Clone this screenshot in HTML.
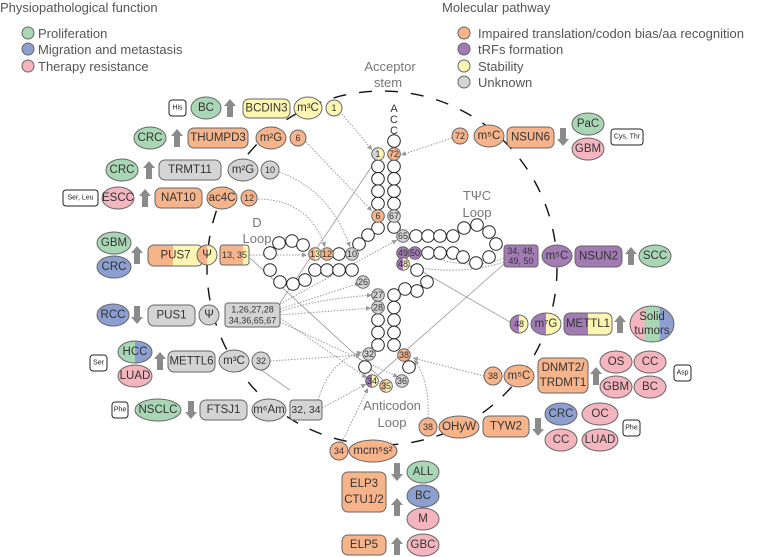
<!DOCTYPE html>
<html><head><meta charset="utf-8"><style>
html,body{margin:0;padding:0;background:#fff;}
svg{display:block;font-family:"Liberation Sans",Arial,sans-serif;}
</style></head><body>
<svg width="764" height="557" viewBox="0 0 764 557" xmlns="http://www.w3.org/2000/svg">
<defs>
<linearGradient id="oy" x1="0" x2="1" y1="0" y2="0"><stop offset="0.5" stop-color="#f7b48a"/><stop offset="0.5" stop-color="#fdf6b3"/></linearGradient>
<linearGradient id="oy45" x1="0" x2="1" y1="0" y2="0"><stop offset="0.45" stop-color="#f7b48a"/><stop offset="0.45" stop-color="#fdf6b3"/></linearGradient>
<linearGradient id="oy75" x1="0" x2="1" y1="0" y2="0"><stop offset="0.8" stop-color="#f7b48a"/><stop offset="0.8" stop-color="#fdf6b3"/></linearGradient>
<linearGradient id="py" x1="0" x2="1" y1="0" y2="0"><stop offset="0.5" stop-color="#a27bb5"/><stop offset="0.5" stop-color="#fdf6b3"/></linearGradient>
<linearGradient id="gy" x1="0" x2="1" y1="0" y2="0"><stop offset="0.5" stop-color="#d4d4d4"/><stop offset="0.5" stop-color="#fdf6b3"/></linearGradient>
<linearGradient id="gb" x1="0" x2="1" y1="0" y2="0"><stop offset="0.5" stop-color="#a9d7b5"/><stop offset="0.5" stop-color="#8c9fd0"/></linearGradient>
<linearGradient id="pgb" x1="0" x2="1" y1="0" y2="0"><stop offset="0.33" stop-color="#f5b5bf"/><stop offset="0.33" stop-color="#a9d7b5"/><stop offset="0.67" stop-color="#a9d7b5"/><stop offset="0.67" stop-color="#8c9fd0"/></linearGradient>
<marker id="ar" markerWidth="6" markerHeight="6" refX="5" refY="3" orient="auto"><path d="M0,0.5 L5,3 L0,5.5Z" fill="#999"/></marker>
</defs>
<style>
.t{fill:#555;font-size:13px}
.n{font-size:11.5px;fill:#333;text-anchor:middle;dominant-baseline:central}
.s{font-size:9px;fill:#333;text-anchor:middle;dominant-baseline:central}
.xs{font-size:7px;fill:#222;text-anchor:middle;dominant-baseline:central}
.st{stroke:#666;stroke-width:1}
.G{fill:#a9d7b5}.B{fill:#8c9fd0}.P{fill:#f5b5bf}.O{fill:#f7b48a}.U{fill:#a27bb5}.Y{fill:#fdf6b3}.R{fill:#d4d4d4}
.dot{fill:none;stroke:#999;stroke-width:1;stroke-dasharray:1.5 1.5}
.ln{fill:none;stroke:#999;stroke-width:0.8}
.lbl{fill:#777;font-size:13px;text-anchor:middle}
.c{fill:#fff;stroke:#222;stroke-width:1}
.arw{fill:#8a8a8a}
</style>

<text x="0" y="12" class="t">Physiopathological function</text>
<circle cx="28" cy="33" r="6" class="G st"/><text x="38" y="38" class="t">Proliferation</text>
<circle cx="28" cy="49" r="6" class="B st"/><text x="38" y="54" class="t">Migration and metastasis</text>
<circle cx="28" cy="66" r="6" class="P st"/><text x="38" y="71" class="t">Therapy resistance</text>
<text x="442" y="12" class="t">Molecular pathway</text>
<circle cx="464" cy="33" r="6" class="O st"/><text x="478" y="38" class="t">Impaired translation/codon bias/aa recognition</text>
<circle cx="464" cy="49" r="6" class="U st"/><text x="478" y="54" class="t">tRFs formation</text>
<circle cx="464" cy="66" r="6" class="Y st"/><text x="478" y="71" class="t">Stability</text>
<circle cx="464" cy="82" r="6" class="R st"/><text x="478" y="87" class="t">Unknown</text>

<text x="390" y="71" class="lbl">Acceptor</text>
<text x="388" y="87" class="lbl">stem</text>

<ellipse cx="382" cy="268" rx="175" ry="177" fill="none" stroke="#111" stroke-width="1.4" stroke-dasharray="13 13"/>

<g class="dot" marker-end="url(#ar)">
<path d="M342,114 Q360,135 372,150"/>
<path d="M306,142 L372,211"/>
<path d="M279,172 Q330,190 350,247"/>
<path d="M258,199 Q310,200 325,247"/>
<path d="M250,255 L307,255"/>
<path d="M280,309 L360,283"/>
<path d="M280,312 Q310,300 372,295"/>
<path d="M280,315 L371,308"/>
<path d="M280,318 L367,378"/>
<path d="M280,322 L398,377"/>
<path d="M280,304 L397,240"/>
<path d="M270,361 L361,355"/>
<path d="M318,400 Q330,360 362,352"/>
<path d="M322,408 L366,384"/>
<path d="M342,442 L368,388"/>
<path d="M452,138 L401,155"/>
<path d="M504,258 Q470,272 422,254"/>
<path d="M504,262 Q460,276 409,266"/>
<path d="M484,376 L413,358"/>
<path d="M428,418 Q430,380 414,360"/>
</g>
<g class="ln">
<path d="M280,303 L376,160"/>
<path d="M250,258 L384,381"/>
<path d="M504,264 L376,377"/>
<path d="M510,322 L423,272"/>
<path d="M261,370 L290,390"/>
</g>

<g>
<circle cx="394" cy="141" r="6.3" class="c"/>
<g class="c">
<circle cx="378" cy="166.4" r="6.3"/><circle cx="378" cy="178.8" r="6.3"/><circle cx="378" cy="191.2" r="6.3"/><circle cx="378" cy="203.6" r="6.3"/>
<circle cx="394" cy="166.4" r="6.3"/><circle cx="394" cy="178.8" r="6.3"/><circle cx="394" cy="191.2" r="6.3"/><circle cx="394" cy="203.6" r="6.3"/>
<circle cx="378" cy="228" r="6.3"/><circle cx="394" cy="227" r="6.3"/><circle cx="368" cy="235" r="6.3"/><circle cx="359" cy="244" r="6.3"/>
<circle cx="339" cy="254" r="6.3"/>
<circle cx="315" cy="270" r="6.3"/><circle cx="327" cy="270" r="6.3"/><circle cx="339" cy="270" r="6.3"/><circle cx="352" cy="270" r="6.3"/>
<circle cx="270" cy="253" r="6.3"/><circle cx="279" cy="243" r="6.3"/><circle cx="292" cy="241" r="6.3"/><circle cx="303" cy="245" r="6.3"/>
<circle cx="270" cy="270" r="6.3"/><circle cx="280" cy="282" r="6.3"/><circle cx="293" cy="284" r="6.3"/><circle cx="305" cy="280" r="6.3"/>
<circle cx="416" cy="236" r="6.3"/><circle cx="428" cy="236" r="6.3"/><circle cx="440" cy="236" r="6.3"/><circle cx="453" cy="236" r="6.3"/>
<circle cx="428" cy="253" r="6.3"/><circle cx="440" cy="253" r="6.3"/><circle cx="453" cy="253" r="6.3"/>
<circle cx="464" cy="228" r="6.3"/><circle cx="477" cy="225" r="6.3"/><circle cx="489" cy="232" r="6.3"/><circle cx="496" cy="244" r="6.3"/><circle cx="489" cy="257" r="6.3"/><circle cx="476" cy="263" r="6.3"/><circle cx="463" cy="257" r="6.3"/>
<circle cx="417" cy="270" r="6.3"/><circle cx="427" cy="282" r="6.3"/><circle cx="417" cy="291" r="6.3"/><circle cx="405" cy="289" r="6.3"/>
<circle cx="394" cy="295" r="6.3"/><circle cx="394" cy="307.5" r="6.3"/><circle cx="394" cy="320" r="6.3"/><circle cx="394" cy="332.5" r="6.3"/><circle cx="394" cy="345" r="6.3"/>
<circle cx="378" cy="320" r="6.3"/><circle cx="378" cy="332.5" r="6.3"/><circle cx="378" cy="345" r="6.3"/>
<circle cx="365" cy="367" r="6.3"/><circle cx="409" cy="367" r="6.3"/>
</g>
<circle cx="378" cy="154" r="6.3" fill="url(#gy)" class="st"/><text x="378" y="154" class="s">1</text>
<circle cx="394" cy="154" r="6.3" class="O st"/><text x="394" y="154" class="s">72</text>
<circle cx="378" cy="216" r="6.3" class="O st"/><text x="378" y="216" class="s">6</text>
<circle cx="394" cy="216" r="6.3" class="R st"/><text x="394" y="216" class="s">67</text>
<circle cx="315" cy="254" r="6.3" fill="url(#oy)" class="st"/><text x="315" y="254" class="s">13</text>
<circle cx="327" cy="254" r="6.3" class="O st"/><text x="327" y="254" class="s">12</text>
<circle cx="352" cy="254" r="6.3" class="R st"/><text x="352" y="254" class="s">10</text>
<circle cx="363" cy="282" r="6.3" class="R st"/><text x="363" y="282" class="s">26</text>
<circle cx="403" cy="236" r="6.3" class="R st"/><text x="403" y="236" class="s">65</text>
<circle cx="403" cy="253" r="6.3" class="U st"/><text x="403" y="253" class="s">49</text>
<circle cx="415" cy="253" r="6.3" class="U st"/><text x="415" y="253" class="s">50</text>
<circle cx="403" cy="264" r="6.3" fill="url(#py)" class="st"/><text x="403" y="264" class="s">48</text>
<circle cx="378" cy="295" r="6.3" class="R st"/><text x="378" y="295" class="s">27</text>
<circle cx="378" cy="307.5" r="6.3" class="R st"/><text x="378" y="307.5" class="s">28</text>
<circle cx="369" cy="354" r="6.3" class="R st"/><text x="369" y="354" class="s">32</text>
<circle cx="404" cy="355" r="6.3" class="O st"/><text x="404" y="355" class="s">38</text>
<circle cx="372" cy="381" r="6.3" fill="url(#py)" class="st"/><text x="372" y="381" class="s">34</text>
<circle cx="386" cy="386" r="6.3" fill="url(#oy)" class="st"/><text x="386" y="386" class="s">35</text>
<circle cx="402" cy="381" r="6.3" class="R st"/><text x="402" y="381" class="s">36</text>
</g>
<text x="394" y="112" class="lbl" style="font-size:11px;fill:#333">A</text>
<text x="394" y="123" class="lbl" style="font-size:11px;fill:#333">C</text>
<text x="394" y="134" class="lbl" style="font-size:11px;fill:#333">C</text>

<text x="257" y="227" class="lbl">D</text><text x="257" y="243" class="lbl">Loop</text>
<text x="477" y="200" class="lbl">TΨC</text><text x="477" y="217" class="lbl">Loop</text>
<text x="392" y="410" class="lbl">Anticodon</text><text x="392" y="427" class="lbl">Loop</text>

<g>
<rect x="169" y="100" width="17" height="16" rx="3" fill="#fff" stroke="#222"/><text x="177.5" y="108" class="xs">His</text>
<ellipse cx="206" cy="108" rx="15" ry="11" class="G st"/><text x="206" y="108" class="n">BC</text>
<path transform="translate(230,108)" class="arw" d="M0,-9 L6,-2 L3,-2 L3,9 L-3,9 L-3,-2 L-6,-2Z"/>
<rect x="243" y="99" width="47" height="19" rx="6" class="Y st"/><text x="266.5" y="108.5" class="n">BCDIN3</text>
<ellipse cx="308" cy="108" rx="14" ry="11" class="Y st"/><text x="308" y="108" class="n">m³C</text>
<circle cx="334" cy="108" r="8" class="Y st"/><text x="334" y="108" class="s">1</text>

<ellipse cx="150" cy="138" rx="16" ry="11" class="G st"/><text x="150" y="138" class="n">CRC</text>
<path transform="translate(177,138)" class="arw" d="M0,-9 L6,-2 L3,-2 L3,9 L-3,9 L-3,-2 L-6,-2Z"/>
<rect x="188" y="128" width="60" height="20" rx="6" class="O st"/><text x="218" y="138" class="n">THUMPD3</text>
<ellipse cx="271" cy="138" rx="15" ry="11" class="O st"/><text x="271" y="138" class="n">m²G</text>
<circle cx="298" cy="138" r="8" class="O st"/><text x="298" y="138" class="s">6</text>

<ellipse cx="122" cy="170" rx="16" ry="11" class="G st"/><text x="122" y="170" class="n">CRC</text>
<path transform="translate(149,170)" class="arw" d="M0,-9 L6,-2 L3,-2 L3,9 L-3,9 L-3,-2 L-6,-2Z"/>
<rect x="159" y="160" width="62" height="20" rx="6" class="R st"/><text x="190" y="170" class="n">TRMT11</text>
<ellipse cx="243" cy="170" rx="15" ry="11" class="R st"/><text x="243" y="170" class="n">m²G</text>
<circle cx="270" cy="170" r="9" class="R st"/><text x="270" y="170" class="s">10</text>

<rect x="63" y="190" width="35" height="16" rx="3" fill="#fff" stroke="#222"/><text x="80.5" y="198" class="xs">Ser, Leu</text>
<ellipse cx="118" cy="198" rx="16" ry="11" class="P st"/><text x="118" y="198" class="n">ESCC</text>
<path transform="translate(145,198)" class="arw" d="M0,-9 L6,-2 L3,-2 L3,9 L-3,9 L-3,-2 L-6,-2Z"/>
<rect x="155" y="188" width="47" height="20" rx="6" class="O st"/><text x="178.5" y="198" class="n">NAT10</text>
<ellipse cx="222" cy="198" rx="15" ry="11" class="O st"/><text x="222" y="198" class="n">ac4C</text>
<circle cx="249" cy="198" r="8" class="O st"/><text x="249" y="198" class="s">12</text>

<ellipse cx="114" cy="243" rx="17" ry="11" class="G st"/><text x="114" y="243" class="n">GBM</text>
<ellipse cx="114" cy="267" rx="17" ry="11" class="B st"/><text x="114" y="267" class="n">CRC</text>
<path transform="translate(137,255)" class="arw" d="M0,-9 L6,-2 L3,-2 L3,9 L-3,9 L-3,-2 L-6,-2Z"/>
<rect x="148" y="245" width="55" height="21" rx="6" fill="url(#oy45)" class="st"/><text x="175.5" y="255.5" class="n">PUS7</text>
<circle cx="207" cy="255" r="10" fill="url(#oy)" class="st"/><text x="207" y="255" class="n">Ψ</text>
<rect x="220" y="245" width="29" height="20" rx="3" fill="url(#oy75)" class="st"/><text x="234.5" y="255" class="s">13, 35</text>

<ellipse cx="113" cy="315" rx="16" ry="11" class="B st"/><text x="113" y="315" class="n">RCC</text>
<path transform="translate(137,315) rotate(180)" class="arw" d="M0,-9 L6,-2 L3,-2 L3,9 L-3,9 L-3,-2 L-6,-2Z"/>
<rect x="148" y="305" width="47" height="21" rx="6" class="R st"/><text x="171.5" y="315.5" class="n">PUS1</text>
<circle cx="209" cy="315" r="10" class="R st"/><text x="209" y="315" class="n">Ψ</text>
<rect x="225" y="303" width="55" height="24" rx="3" class="R st"/><text x="252.5" y="309.5" class="s">1,26,27,28</text><text x="252.5" y="320.5" class="s">34,36,65,67</text>

<rect x="90" y="355" width="17" height="16" rx="3" fill="#fff" stroke="#222"/><text x="98.5" y="363" class="xs">Ser</text>
<ellipse cx="135" cy="352" rx="17" ry="11" fill="url(#gb)" class="st"/><text x="135" y="352" class="n">HCC</text>
<ellipse cx="135" cy="376" rx="17" ry="11" class="P st"/><text x="135" y="376" class="n">LUAD</text>
<path transform="translate(160,361)" class="arw" d="M0,-9 L6,-2 L3,-2 L3,9 L-3,9 L-3,-2 L-6,-2Z"/>
<rect x="168" y="351" width="47" height="21" rx="6" class="R st"/><text x="191.5" y="361.5" class="n">METTL6</text>
<ellipse cx="234" cy="361" rx="15" ry="11" class="R st"/><text x="234" y="361" class="n">m³C</text>
<circle cx="261" cy="361" r="9" class="R st"/><text x="261" y="361" class="s">32</text>

<rect x="112" y="402" width="16" height="16" rx="3" fill="#fff" stroke="#222"/><text x="120" y="410" class="xs">Phe</text>
<ellipse cx="158" cy="410" rx="23" ry="11" class="G st"/><text x="158" y="410" class="n">NSCLC</text>
<path transform="translate(191,410) rotate(180)" class="arw" d="M0,-9 L6,-2 L3,-2 L3,9 L-3,9 L-3,-2 L-6,-2Z"/>
<rect x="200" y="400" width="47" height="20" rx="6" class="R st"/><text x="223.5" y="410" class="n">FTSJ1</text>
<ellipse cx="269" cy="410" rx="17" ry="11" class="R st"/><text x="269" y="410" class="n">m⁶Am</text>
<rect x="290" y="400" width="32" height="20" rx="3" class="R st"/><text x="306" y="410" class="s" style="font-size:10.5px">32, 34</text>

<circle cx="339" cy="451" r="9" class="O st"/><text x="339" y="451" class="s">34</text>
<ellipse cx="373" cy="451" rx="24" ry="11" class="O st"/><text x="373" y="451" class="n">mcm⁵s²</text>
<path transform="translate(397,472) rotate(180)" class="arw" d="M0,-9 L6,-2 L3,-2 L3,9 L-3,9 L-3,-2 L-6,-2Z"/>
<rect x="342" y="472" width="44" height="40" rx="6" class="O st"/><text x="364" y="484" class="n">ELP3</text><text x="364" y="500" class="n">CTU1/2</text>
<path transform="translate(397,507)" class="arw" d="M0,-9 L6,-2 L3,-2 L3,9 L-3,9 L-3,-2 L-6,-2Z"/>
<rect x="342" y="535" width="44" height="20" rx="6" class="O st"/><text x="364" y="545" class="n">ELP5</text>
<path transform="translate(397,546)" class="arw" d="M0,-9 L6,-2 L3,-2 L3,9 L-3,9 L-3,-2 L-6,-2Z"/>
<ellipse cx="423" cy="472" rx="16" ry="11" class="G st"/><text x="423" y="472" class="n">ALL</text>
<ellipse cx="423" cy="496" rx="16" ry="11" class="B st"/><text x="423" y="496" class="n">BC</text>
<ellipse cx="423" cy="519" rx="16" ry="11" class="P st"/><text x="423" y="519" class="n">M</text>
<ellipse cx="423" cy="545" rx="16" ry="11" class="P st"/><text x="423" y="545" class="n">GBC</text>

<circle cx="460" cy="136" r="8" class="O st"/><text x="460" y="136" class="s">72</text>
<ellipse cx="489" cy="136" rx="15" ry="11" class="O st"/><text x="489" y="136" class="n">m⁵C</text>
<rect x="507" y="127" width="47" height="21" rx="6" class="O st"/><text x="530.5" y="137.5" class="n">NSUN6</text>
<path transform="translate(563,137) rotate(180)" class="arw" d="M0,-9 L6,-2 L3,-2 L3,9 L-3,9 L-3,-2 L-6,-2Z"/>
<ellipse cx="588" cy="124" rx="16" ry="11" class="G st"/><text x="588" y="124" class="n">PaC</text>
<ellipse cx="588" cy="149" rx="16" ry="11" class="P st"/><text x="588" y="149" class="n">GBM</text>
<rect x="611" y="129" width="32" height="16" rx="3" fill="#fff" stroke="#222"/><text x="627" y="137" class="xs">Cys, Thr</text>

<rect x="504" y="245" width="34" height="22" rx="3" class="U st"/><text x="521" y="251" class="s">34, 48,</text><text x="521" y="261" class="s">49, 50</text>
<ellipse cx="557" cy="256" rx="15" ry="11" class="U st"/><text x="557" y="256" class="n">m⁵C</text>
<rect x="575" y="246" width="47" height="21" rx="6" class="U st"/><text x="598.5" y="256.5" class="n">NSUN2</text>
<path transform="translate(631,256)" class="arw" d="M0,-9 L6,-2 L3,-2 L3,9 L-3,9 L-3,-2 L-6,-2Z"/>
<ellipse cx="655" cy="256" rx="16" ry="11" class="G st"/><text x="655" y="256" class="n">SCC</text>

<circle cx="519" cy="324" r="9" fill="url(#py)" class="st"/><text x="519" y="324" class="s">48</text>
<ellipse cx="546" cy="324" rx="15" ry="11" fill="url(#py)" class="st"/><text x="546" y="324" class="n">m⁷G</text>
<rect x="564" y="313" width="48" height="22" rx="6" fill="url(#py)" class="st"/><text x="588" y="324" class="n">METTL1</text>
<path transform="translate(620,324)" class="arw" d="M0,-9 L6,-2 L3,-2 L3,9 L-3,9 L-3,-2 L-6,-2Z"/>
<ellipse cx="652" cy="324" rx="22" ry="18" fill="url(#pgb)" class="st"/><text x="652" y="317" class="n">Solid</text><text x="652" y="331" class="n">tumors</text>

<circle cx="493" cy="376" r="9" class="O st"/><text x="493" y="376" class="s">38</text>
<ellipse cx="519" cy="376" rx="15" ry="11" class="O st"/><text x="519" y="376" class="n">m⁵C</text>
<rect x="538" y="358" width="50" height="35" rx="6" class="O st"/><text x="563" y="368" class="n">DNMT2/</text><text x="563" y="383" class="n">TRDMT1</text>
<path transform="translate(596,376)" class="arw" d="M0,-9 L6,-2 L3,-2 L3,9 L-3,9 L-3,-2 L-6,-2Z"/>
<ellipse cx="616" cy="362" rx="16" ry="11" class="P st"/><text x="616" y="362" class="n">OS</text>
<ellipse cx="650" cy="362" rx="16" ry="11" class="P st"/><text x="650" y="362" class="n">CC</text>
<ellipse cx="616" cy="387" rx="16" ry="11" class="P st"/><text x="616" y="387" class="n">GBM</text>
<ellipse cx="650" cy="387" rx="16" ry="11" class="P st"/><text x="650" y="387" class="n">BC</text>
<rect x="674" y="365" width="17" height="16" rx="3" fill="#fff" stroke="#222"/><text x="682.5" y="373" class="xs">Asp</text>

<circle cx="428" cy="427" r="9" class="O st"/><text x="428" y="427" class="s">38</text>
<ellipse cx="459" cy="427" rx="20" ry="11" class="O st"/><text x="459" y="427" class="n">OHyW</text>
<rect x="483" y="416" width="46" height="21" rx="6" class="O st"/><text x="506" y="426.5" class="n">TYW2</text>
<path transform="translate(538,427) rotate(180)" class="arw" d="M0,-9 L6,-2 L3,-2 L3,9 L-3,9 L-3,-2 L-6,-2Z"/>
<ellipse cx="561" cy="414" rx="16" ry="11" class="B st"/><text x="561" y="414" class="n">CRC</text>
<ellipse cx="600" cy="414" rx="18" ry="11" class="P st"/><text x="600" y="414" class="n">OC</text>
<ellipse cx="561" cy="440" rx="16" ry="11" class="P st"/><text x="561" y="440" class="n">CC</text>
<ellipse cx="600" cy="440" rx="18" ry="11" class="P st"/><text x="600" y="440" class="n">LUAD</text>
<rect x="623" y="420" width="17" height="16" rx="3" fill="#fff" stroke="#222"/><text x="631.5" y="428" class="xs">Phe</text>
</g>
</svg>
</body></html>
